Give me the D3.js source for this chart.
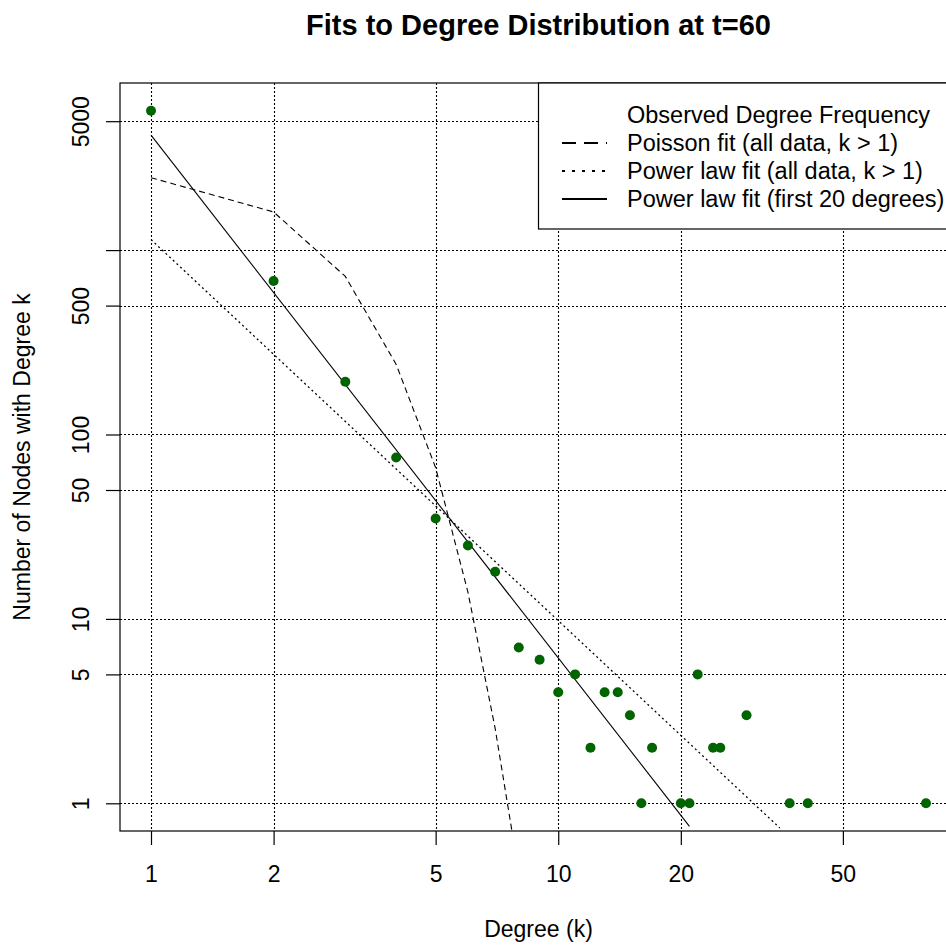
<!DOCTYPE html>
<html>
<head>
<meta charset="utf-8">
<script src="https://cdn.jsdelivr.net/npm/d3@7"></script>
<style>
  body { margin: 0; background: #fff; }
  text { font-family: "Liberation Sans", Arial, sans-serif; fill: #000; }
</style>
</head>
<body>
<div id="chart"></div>
<script>
'use strict';
// observed degree frequency
var degrees = [1, 2, 3, 4, 5, 6, 7, 8, 9, 10, 11, 12, 13, 14, 15, 16, 17, 20, 21, 22, 24, 25, 29, 37, 41, 80];
var counts  = [5700, 680, 193, 75, 35, 25, 18, 7, 6, 4, 5, 2, 4, 4, 3, 1, 2, 1, 1, 5, 2, 2, 3, 1, 1, 1];

// fitted curves, values read at their vertices
var poissonK = [1, 2, 3, 4, 5, 6, 7, 8];
var poissonN = [2470, 1610, 720, 240, 66, 14, 2.55, 0.42];
var powAllK = [1, 35];
var powAllN = [1140, 0.735];
var pow20K = [1, 21];
var pow20N = [4200, 0.75];

var xTicks = [1, 2, 5, 10, 20, 50];
var yTicks = [1, 5, 10, 50, 100, 500, 1000, 5000];
var yTickLabels = ['1', '5', '10', '50', '100', '500', '', '5000'];

var legendLabels = ['Observed Degree Frequency', 'Poisson fit (all data, k > 1)',
                    'Power law fit (all data, k > 1)', 'Power law fit (first 20 degrees)'];

var width = 946, height = 950;
var plot = {left: 120, right: 957, top: 83, bottom: 831};

// R style log axis: data range extended by 4%
function ext(lo, hi) {
  var a = Math.log10(lo), b = Math.log10(hi), d = (b - a) * 0.04;
  return [Math.pow(10, a - d), Math.pow(10, b + d)];
}

var x = d3.scaleLog().domain(ext(1, 80)).range([plot.left, plot.right]);
var y = d3.scaleLog().domain(ext(1, 5700)).range([plot.bottom, plot.top]);

var svg = d3.select('#chart').append('svg')
  .attr('width', width).attr('height', height);

svg.append('defs').append('clipPath').attr('id', 'clip')
  .append('rect')
  .attr('x', plot.left).attr('y', plot.top)
  .attr('width', plot.right - plot.left).attr('height', plot.bottom - plot.top);

// grid
var grid = svg.append('g').attr('stroke', '#000').attr('stroke-width', 1.1)
  .attr('stroke-dasharray', '2,2');
grid.selectAll('.gx').data(xTicks).enter().append('line')
  .attr('x1', function (d) { return Math.round(x(d)) + 0.5; })
  .attr('x2', function (d) { return Math.round(x(d)) + 0.5; })
  .attr('y1', plot.top).attr('y2', plot.bottom);
grid.selectAll('.gy').data(yTicks).enter().append('line')
  .attr('y1', function (d) { return Math.round(y(d)) + 0.5; })
  .attr('y2', function (d) { return Math.round(y(d)) + 0.5; })
  .attr('x1', plot.left).attr('x2', plot.right);

// axes
var xAxis = svg.append('g').attr('transform', 'translate(0,' + plot.bottom + ')')
  .call(d3.axisBottom(x).tickValues(xTicks).tickFormat(d3.format('d')).tickSize(14).tickPadding(14));
var yAxis = svg.append('g').attr('transform', 'translate(' + plot.left + ',0)')
  .call(d3.axisLeft(y).tickValues(yTicks)
    .tickFormat(function (d, i) { return yTickLabels[i]; }).tickSize(14));
[xAxis, yAxis].forEach(function (a) {
  a.select('.domain').remove();
  a.selectAll('.tick line').attr('stroke', '#000').attr('stroke-width', 1.2);
  a.selectAll('text').style('font-size', '23px')
    .style('font-family', '"Liberation Sans", Arial, sans-serif').attr('fill', '#000');
});
xAxis.selectAll('text').attr('dy', '0.71em').attr('y', 35);
yAxis.selectAll('text')
  .attr('x', null).attr('dy', null)
  .attr('text-anchor', 'middle')
  .attr('transform', 'translate(-31,0) rotate(-90)');

// fit lines
var line = d3.line()
  .x(function (d) { return x(d[0]); })
  .y(function (d) { return y(d[1]); });
var fits = svg.append('g').attr('clip-path', 'url(#clip)')
  .attr('fill', 'none').attr('stroke', '#000').attr('stroke-width', 1.1);
fits.append('path').datum(d3.zip(poissonK, poissonN))
  .attr('d', line).attr('stroke-dasharray', '6,4');
fits.append('path').datum(d3.zip(powAllK, powAllN))
  .attr('d', line).attr('stroke-dasharray', '2,3').attr('stroke-width', 1.3);
fits.append('path').datum(d3.zip(pow20K, pow20N))
  .attr('d', line);

// observed points
svg.append('g').selectAll('circle').data(d3.zip(degrees, counts)).enter()
  .append('circle')
  .attr('cx', function (d) { return x(d[0]); })
  .attr('cy', function (d) { return y(d[1]); })
  .attr('r', 5)
  .attr('fill', '#006400');

// box
svg.append('rect')
  .attr('x', plot.left).attr('y', plot.top)
  .attr('width', plot.right - plot.left).attr('height', plot.bottom - plot.top)
  .attr('fill', 'none').attr('stroke', '#000').attr('stroke-width', 1.2);

// legend
var legend = svg.append('g');
legend.append('rect')
  .attr('x', 538.5).attr('y', plot.top)
  .attr('width', plot.right - 538).attr('height', 146)
  .attr('fill', '#fff').attr('stroke', '#000').attr('stroke-width', 1.2);
var rows = legend.selectAll('.row').data(legendLabels).enter().append('g')
  .attr('transform', function (d, i) { return 'translate(0,' + (115 + i * 28) + ')'; });
rows.append('text')
  .attr('x', 627).attr('dy', '0.35em')
  .style('font-size', '23.5px')
  .text(function (d) { return d; });
var dashes = [null, '14,8', '3,7', null];
rows.filter(function (d, i) { return i > 0; }).append('line')
  .attr('x1', 562).attr('x2', 607).attr('y1', 0).attr('y2', 0)
  .attr('stroke', '#000').attr('stroke-width', 2)
  .attr('stroke-dasharray', function (d, i) { return dashes[i + 1]; });

// titles
svg.append('text')
  .attr('x', (plot.left + plot.right) / 2).attr('y', 35)
  .attr('text-anchor', 'middle')
  .style('font-size', '29px').style('font-weight', 'bold')
  .text('Fits to Degree Distribution at t=60');
svg.append('text')
  .attr('x', (plot.left + plot.right) / 2).attr('y', 937)
  .attr('text-anchor', 'middle')
  .style('font-size', '23px')
  .text('Degree (k)');
svg.append('text')
  .attr('transform', 'translate(30,' + (plot.top + plot.bottom) / 2 + ') rotate(-90)')
  .attr('text-anchor', 'middle')
  .style('font-size', '23px')
  .text('Number of Nodes with Degree k');
</script>
</body>
</html>
